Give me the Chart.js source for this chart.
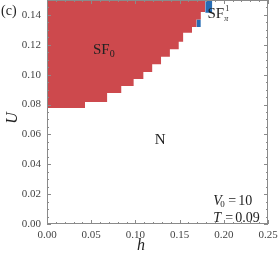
<!DOCTYPE html>
<html>
<head>
<meta charset="utf-8">
<script src="https://cdn.jsdelivr.net/npm/chart.js@4.4.0/dist/chart.umd.min.js"></script>
<style>
  body { margin: 0; background: #fff; }
  #wrap { width: 278px; height: 258px; position: relative; }
</style>
</head>
<body>
<div id="wrap"><canvas id="phase-chart"></canvas></div>
<script>
// phase boundary of SF0 (U above this line is SF0)
const sfH = [0.000, 0.043, 0.068, 0.084, 0.098, 0.109, 0.119, 0.129, 0.139, 0.149, 0.154, 0.164, 0.169, 0.174, 0.179];
const sfU = [0.0777, 0.0817, 0.0877, 0.0924, 0.0971, 0.1018, 0.107, 0.112, 0.117, 0.122, 0.128, 0.132, 0.137, 0.142, 0.150];

// small SF_pi^1 cells
const piH1 = [0.169, 0.174];
const piU1 = [0.137, 0.137];
const piLow1 = 0.132;
const piH2 = [0.179, 0.187];
const piU2 = [0.150, 0.150];
const piLow2 = 0.1415;

const xRange = [0, 0.25];
const yRange = [0, 0.15];

const RED = 'rgb(205, 73, 77)';
const BLUE = 'rgb(38, 108, 180)';
const SERIF = '"Liberation Serif", "DejaVu Serif", serif';

function toPoints(xs, ys) {
  return xs.map((x, i) => ({ x: x, y: ys[i] }));
}

// frame, inward ticks and the text labels
const framePlugin = {
  id: 'frame',
  afterDatasetsDraw(chart) {
    const ctx = chart.ctx;
    const a = chart.chartArea;
    const xs = chart.scales.x;
    const ys = chart.scales.y;
    ctx.save();
    ctx.strokeStyle = '#8a8a8a';
    ctx.lineWidth = 1;
    ctx.strokeRect(a.left + 0.5, a.top + 0.5, a.right - a.left - 1, a.bottom - a.top - 1);

    ctx.beginPath();
    for (let i = 0; i <= 25; i++) {
      const px = Math.round(xs.getPixelForValue(i * 0.01)) + 0.5;
      const len = i % 5 === 0 ? 4 : 2;
      ctx.moveTo(px, a.bottom);
      ctx.lineTo(px, a.bottom - len);
      ctx.moveTo(px, a.top);
      ctx.lineTo(px, a.top + len);
    }
    for (let i = 0; i <= 30; i++) {
      const py = Math.round(ys.getPixelForValue(i * 0.005)) + 0.5;
      const len = i % 4 === 0 ? 4 : 2;
      ctx.moveTo(a.left, py);
      ctx.lineTo(a.left + len, py);
      ctx.moveTo(a.right, py);
      ctx.lineTo(a.right - len, py);
    }
    ctx.stroke();

    ctx.fillStyle = '#222';
    ctx.textBaseline = 'middle';
    ctx.textAlign = 'left';

    // SF0
    let x = xs.getPixelForValue(0.052);
    let y = ys.getPixelForValue(0.1165);
    ctx.font = '15px ' + SERIF;
    ctx.fillText('SF', x, y);
    let w = ctx.measureText('SF').width;
    ctx.font = '10px ' + SERIF;
    ctx.fillText('0', x + w, y + 4);

    // SF_pi^1
    x = xs.getPixelForValue(0.1815);
    y = ys.getPixelForValue(0.1405);
    ctx.font = '15px ' + SERIF;
    ctx.fillText('SF', x, y);
    w = ctx.measureText('SF').width;
    ctx.font = '8px ' + SERIF;
    ctx.fillText('1', x + w + 1, y - 5);
    ctx.font = 'italic 8px ' + SERIF;
    ctx.fillText('\u03c0', x + w, y + 5);

    // N
    ctx.font = '15px ' + SERIF;
    ctx.textAlign = 'center';
    ctx.fillText('N', xs.getPixelForValue(0.128), ys.getPixelForValue(0.0563));

    // V0 = 10, T = 0.09
    ctx.textAlign = 'left';
    x = xs.getPixelForValue(0.188);
    y = ys.getPixelForValue(0.0155);
    ctx.font = 'italic 14px ' + SERIF;
    ctx.fillText('V', x, y);
    ctx.font = '9px ' + SERIF;
    ctx.fillText('0', x + 7, y + 4);
    ctx.font = '14px ' + SERIF;
    ctx.fillText('=', x + 15, y);
    ctx.fillText('10', x + 25, y);

    y = ys.getPixelForValue(0.004);
    ctx.font = 'italic 14px ' + SERIF;
    ctx.fillText('T', x, y);
    ctx.font = '14px ' + SERIF;
    ctx.fillText('=', x + 12, y);
    ctx.fillText('0.09', x + 22, y);

    // axis titles and panel tag
    ctx.font = 'italic 16px ' + SERIF;
    ctx.textAlign = 'center';
    ctx.fillText('h', 141, 246);
    ctx.save();
    ctx.translate(13, 118);
    ctx.rotate(-Math.PI / 2);
    ctx.fillText('U', 0, 0);
    ctx.restore();

    ctx.font = '14px ' + SERIF;
    ctx.textAlign = 'left';
    ctx.fillText('(c)', 1, 11);
    ctx.restore();
  }
};

function trimPadding(s) {
  s.paddingTop = 0;
  s.paddingBottom = 0;
  s.paddingLeft = 0;
  s.paddingRight = 0;
}

const ctx = document.getElementById('phase-chart').getContext('2d');
new Chart(ctx, {
  type: 'line',
  data: {
    datasets: [
      {
        label: 'SF0',
        data: toPoints(sfH, sfU),
        stepped: 'before',
        fill: 'end',
        backgroundColor: RED,
        borderWidth: 0,
        borderColor: 'rgba(0,0,0,0)',
        pointRadius: 0
      },
      {
        label: 'SFpi1 a',
        data: toPoints(piH1, piU1),
        fill: { value: piLow1 },
        backgroundColor: BLUE,
        borderWidth: 0,
        borderColor: 'rgba(0,0,0,0)',
        pointRadius: 0
      },
      {
        label: 'SFpi1 b',
        data: toPoints(piH2, piU2),
        fill: { value: piLow2 },
        backgroundColor: BLUE,
        borderWidth: 0,
        borderColor: 'rgba(0,0,0,0)',
        pointRadius: 0
      }
    ]
  },
  options: {
    responsive: true,
    maintainAspectRatio: false,
    animation: false,
    layout: { padding: { top: 0, right: 10, left: 0, bottom: 0 } },
    plugins: {
      legend: { display: false },
      tooltip: { enabled: false }
    },
    scales: {
      x: {
        type: 'linear',
        min: xRange[0],
        max: xRange[1],
        grid: { display: false, drawTicks: false },
        border: { display: false },
        ticks: {
          stepSize: 0.05,
          padding: 5,
          color: '#444',
          font: { family: SERIF, size: 11 },
          maxRotation: 0,
          callback: v => v.toFixed(2)
        },
        afterFit: s => { s.height = 34; trimPadding(s); }
      },
      y: {
        type: 'linear',
        min: yRange[0],
        max: yRange[1],
        grid: { display: false, drawTicks: false },
        border: { display: false },
        ticks: {
          stepSize: 0.02,
          padding: 6,
          color: '#444',
          font: { family: SERIF, size: 11 },
          callback: v => (Math.abs(v / 0.02 - Math.round(v / 0.02)) < 1e-6 ? v.toFixed(2) : '')
        },
        afterFit: s => { s.width = 47; trimPadding(s); }
      }
    }
  },
  plugins: [framePlugin]
});
</script>
</body>
</html>
